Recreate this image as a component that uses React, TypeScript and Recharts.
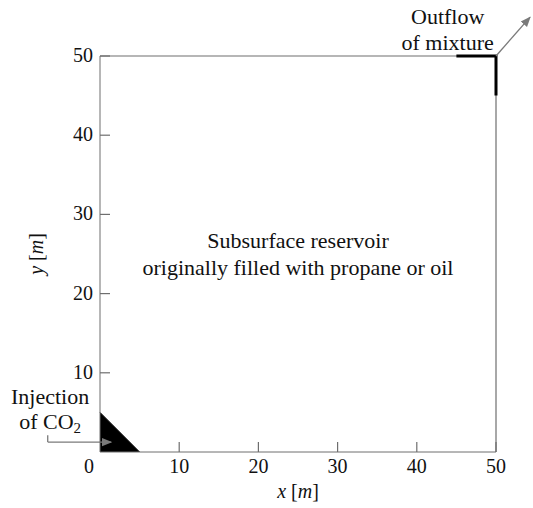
import {
  ComposedChart,
  XAxis,
  YAxis,
  Area,
  Line,
  ReferenceLine,
  ReferenceDot,
  Label,
} from 'recharts';

// injection corner (filled triangle)
const injectionZone = [
  { x: 0, y: 5 },
  { x: 5, y: 0 },
];
// outflow corner (thick black segments)
const outflowEdge = [
  { x: 45, y: 50 },
  { x: 50, y: 50 },
  { x: 50, y: 45 },
];
const xTicks = [10, 20, 30, 40, 50];
const yTicks = [10, 20, 30, 40, 50];
const reservoirText = ['Subsurface reservoir', 'originally filled with propane or oil'];

const FONT = '"Liberation Serif", "DejaVu Serif", serif';
const AXIS = '#6e6e6e';
const ARROW = '#7a7a7a';

const YTick = (props: any) => {
  const { x, y, payload } = props;
  return (
    <g>
      <line x1={x} y1={y} x2={x + 10} y2={y} stroke={AXIS} strokeWidth={1.2} />
      <text x={x - 7} y={y} dy={6} textAnchor="end" fontFamily={FONT} fontSize={20} fill="#111">
        {payload.value}
      </text>
    </g>
  );
};

const XTick = (props: any) => {
  const { x, y, payload } = props;
  return (
    <g>
      <line x1={x} y1={y} x2={x} y2={y - 10} stroke={AXIS} strokeWidth={1.2} />
      <text x={x} y={y} dy={21} textAnchor="middle" fontFamily={FONT} fontSize={20} fill="#111">
        {payload.value}
      </text>
    </g>
  );
};

const textLabel = (value: string, size = 22) => (props: any) => {
  const { viewBox } = props;
  return (
    <text x={viewBox.x} y={viewBox.y} dy={7} textAnchor="middle" fontFamily={FONT} fontSize={size} fill="#111">
      {value}
    </text>
  );
};

export default function App() {
  return (
    <div style={{ position: 'absolute', left: 0, top: 0, background: '#fff' }}>
      <ComposedChart width={533} height={508} margin={{ top: 56, right: 37, bottom: 0, left: 0 }}>
        <defs>
          <marker id="arrowHead" viewBox="0 0 10 10" refX="9" refY="5" markerWidth="8" markerHeight="8" orient="auto">
            <path d="M0,1 L10,5 L0,9 z" fill={ARROW} />
          </marker>
        </defs>
        <XAxis
          type="number"
          dataKey="x"
          domain={[0, 50]}
          ticks={xTicks}
          height={56}
          stroke={AXIS}
          tickLine={false}
          tickSize={0}
          tickMargin={0}
          tick={<XTick />}
        >
          <Label
            position="insideBottom"
            content={() => (
              <text x={298} y={498} textAnchor="middle" fontFamily={FONT} fontSize={20} fill="#111">
                <tspan fontStyle="italic">x</tspan>
                <tspan> [</tspan>
                <tspan fontStyle="italic">m</tspan>
                <tspan>]</tspan>
              </text>
            )}
          />
        </XAxis>
        <YAxis
          type="number"
          domain={[0, 50]}
          ticks={yTicks}
          width={100}
          stroke={AXIS}
          tickLine={false}
          tickSize={0}
          tickMargin={0}
          tick={<YTick />}
        >
          <Label
            position="insideLeft"
            content={() => (
              <text
                x={43}
                y={254}
                transform="rotate(-90 43 254)"
                textAnchor="middle"
                fontFamily={FONT}
                fontSize={20}
                fill="#111"
              >
                <tspan fontStyle="italic">y</tspan>
                <tspan> [</tspan>
                <tspan fontStyle="italic">m</tspan>
                <tspan>]</tspan>
              </text>
            )}
          />
        </YAxis>
        {/* top and right border of the domain */}
        <ReferenceLine y={50} stroke={AXIS} strokeWidth={1.2} />
        <ReferenceLine x={50} stroke={AXIS} strokeWidth={1.2} />

        <Area
          data={injectionZone}
          dataKey="y"
          type="linear"
          stroke="#000"
          fill="#000"
          fillOpacity={1}
          baseValue={0}
          isAnimationActive={false}
        />
        <Line
          data={outflowEdge}
          dataKey="y"
          type="linear"
          stroke="#000"
          strokeWidth={3}
          dot={false}
          isAnimationActive={false}
        />

        {/* injection arrow */}
        <ReferenceLine
          segment={[{ x: -6.6, y: 2.1 }, { x: -6.6, y: 1.25 }]}
          stroke={ARROW}
          strokeWidth={1.3}
          ifOverflow="visible"
        />
        <ReferenceLine
          segment={[{ x: -6.6, y: 1.25 }, { x: 1.4, y: 1.25 }]}
          stroke={ARROW}
          strokeWidth={1.3}
          markerEnd="url(#arrowHead)"
          ifOverflow="visible"
        />
        {/* outflow arrow */}
        <ReferenceLine
          segment={[{ x: 50, y: 50 }, { x: 54.3, y: 54.9 }]}
          stroke={ARROW}
          strokeWidth={1.3}
          markerEnd="url(#arrowHead)"
          ifOverflow="visible"
        />

        <ReferenceDot x={0} y={0} r={0} ifOverflow="visible"
          label={(p: any) => (
            <text x={p.viewBox.x - 11} y={p.viewBox.y} dy={21} textAnchor="middle" fontFamily={FONT} fontSize={20} fill="#111">0</text>
          )}
        />
        <ReferenceDot x={25} y={26.6} r={0} label={textLabel(reservoirText[0])} />
        <ReferenceDot x={25} y={23.2} r={0} label={textLabel(reservoirText[1])} />
        <ReferenceDot x={43.9} y={54.9} r={0} ifOverflow="visible" label={textLabel('Outflow')} />
        <ReferenceDot x={43.9} y={51.6} r={0} ifOverflow="visible" label={textLabel('of mixture')} />
        <ReferenceDot x={-6.3} y={6.9} r={0} ifOverflow="visible" label={textLabel('Injection')} />
        <ReferenceDot x={-6.3} y={3.8} r={0} ifOverflow="visible"
          label={(p: any) => (
            <text x={p.viewBox.x} y={p.viewBox.y} dy={7} textAnchor="middle" fontFamily={FONT} fontSize={22} fill="#111">
              of CO
              <tspan fontSize={15} dy={4}>2</tspan>
            </text>
          )}
        />
      </ComposedChart>
    </div>
  );
}
